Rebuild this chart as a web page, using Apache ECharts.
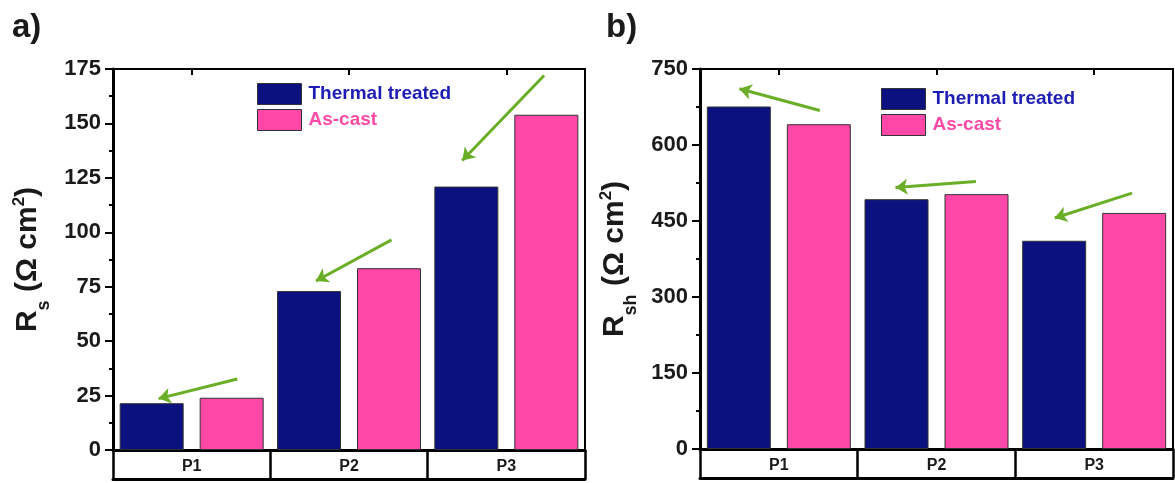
<!DOCTYPE html>
<html>
<head>
<meta charset="utf-8">
<script src="https://cdn.jsdelivr.net/npm/echarts@6/dist/echarts.min.js"></script>
<style>
  html, body { margin: 0; padding: 0; background: #fff; }
  #chart { width: 1175px; height: 483px; }
</style>
</head>
<body>
<div id="chart"></div>
<script>
// Samples and measured resistances
const categories = ['P1', 'P2', 'P3'];
const seriesNames = ['Thermal treated', 'As-cast'];
const rsThermal = [21.5, 73, 121];
const rsAsCast = [24, 83.5, 154];
const rshThermal = [676, 493, 411];
const rshAsCast = [641, 503, 466];

// Annotation arrows in data space: [start, tip], x measured in category units (0..3)
const rsArrows = [
  [[0.79, 32.6], [0.29, 23.6]],
  [[1.77, 96.5], [1.29, 77.6]],
  [[2.74, 172], [2.22, 133]]
];
const rshArrows = [
  [[0.76, 668], [0.25, 711]],
  [[1.75, 528], [1.24, 516]],
  [[2.74, 505], [2.25, 456]]
];

// Axis ranges and tick spacing
const rsAxis = { min: 0, max: 175, interval: 25 };
const rshAxis = { min: 0, max: 750, interval: 150 };

const FONT = '"Liberation Sans", Arial, sans-serif';
const NAVY = '#0b1280';
const PINK = '#ff47a8';
const GREEN = '#6aae27';
const TEXT_BLUE = '#1d1db6';
const TEXT_PINK = '#ff4aa8';

const grids = [
  { left: 113, top: 69, width: 472, height: 381 },
  { left: 700, top: 69, width: 473, height: 380 }
];

function xAxesFor(gi) {
  return [
    { // category axis with boxed labels
      type: 'category', gridIndex: gi, data: categories, position: 'bottom',
      axisLine: { lineStyle: { color: '#000', width: 3 } },
      axisTick: { show: true, length: 29, inside: false, interval: 0, lineStyle: { color: '#000', width: 2.5 } },
      axisLabel: { margin: 9, fontFamily: FONT, fontWeight: 'bold', fontSize: 16, color: '#1a1a1a' },
      splitLine: { show: false }
    },
    { // bottom edge of the label boxes
      type: 'category', gridIndex: gi, data: categories, position: 'bottom', offset: 29,
      axisLine: { lineStyle: { color: '#000', width: 3 } },
      axisTick: { show: false }, axisLabel: { show: false }
    },
    { // top frame with inward ticks at category centres
      type: 'category', gridIndex: gi, data: categories, position: 'top',
      axisLine: { lineStyle: { color: '#000', width: 2 } },
      axisTick: { show: true, inside: true, length: 6, alignWithLabel: true, lineStyle: { color: '#000', width: 2 } },
      axisLabel: { show: false }
    },
    { // continuous x scale for the arrows
      type: 'value', gridIndex: gi, min: 0, max: 3, show: false
    }
  ];
}

function yAxisFor(gi, range, rich, text) {
  return {
    type: 'value', gridIndex: gi, position: 'left',
    min: range.min, max: range.max, interval: range.interval,
    axisLine: { show: true, lineStyle: { color: '#000', width: 3 } },
    axisTick: { show: true, length: 8, lineStyle: { color: '#000', width: 2 } },
    minorTick: { show: true, splitNumber: 2, length: 4, lineStyle: { color: '#000', width: 2 } },
    splitLine: { show: false },
    axisLabel: { margin: 12, fontFamily: FONT, fontWeight: 'bold', fontSize: 22, color: '#1a1a1a' },
    name: text, nameLocation: 'middle', nameRotate: 90, nameGap: 70,
    nameTextStyle: { rich: rich }
  };
}

const nameRich = {
  b: { fontFamily: FONT, fontWeight: 'bold', fontSize: 30, color: '#1a1a1a' },
  sub: { fontFamily: FONT, fontWeight: 'bold', fontSize: 18, color: '#1a1a1a', verticalAlign: 'bottom', padding: [0, 0, -10, 0] },
  sup: { fontFamily: FONT, fontWeight: 'bold', fontSize: 17, color: '#1a1a1a', verticalAlign: 'top', padding: [-2, 0, 0, 0] }
};

function barSeries(gi, name, data, color) {
  return {
    type: 'bar', name: name, data: data,
    xAxisIndex: gi * 4, yAxisIndex: gi,
    barWidth: 64, barGap: '25%',
    itemStyle: { color: color, borderColor: '#333', borderWidth: 1 },
    emphasis: { disabled: true }, z: 2
  };
}

function arrowSeries(gi, arrows) {
  return {
    type: 'lines', coordinateSystem: 'cartesian2d',
    xAxisIndex: gi * 4 + 3, yAxisIndex: gi,
    symbol: ['none', 'arrow'], symbolSize: [0, 12],
    lineStyle: { color: GREEN, width: 3, opacity: 1 },
    data: arrows.map(a => ({ coords: a })),
    silent: true, z: 5
  };
}

function legendFor(left, top) {
  return {
    left: left, top: top, orient: 'vertical', padding: 0,
    itemWidth: 44, itemHeight: 21, itemGap: 4,
    icon: 'rect', selectedMode: false,
    itemStyle: { borderColor: '#333', borderWidth: 1 },
    textStyle: { fontFamily: FONT, fontWeight: 'bold', fontSize: 19, padding: [0, 0, 0, 2] },
    data: [
      { name: seriesNames[0], textStyle: { color: TEXT_BLUE } },
      { name: seriesNames[1], textStyle: { color: TEXT_PINK } }
    ]
  };
}

const option = {
  animation: false,
  backgroundColor: '#fff',
  grid: grids.map(g => Object.assign({ show: true, borderColor: '#000', borderWidth: 2, backgroundColor: 'transparent' }, g)),
  xAxis: [].concat(xAxesFor(0), xAxesFor(1)),
  yAxis: [
    yAxisFor(0, rsAxis, nameRich, '{b|R}{sub|s}{b| (Ω cm}{sup|2}{b|)}'),
    yAxisFor(1, rshAxis, nameRich, '{b|R}{sub|sh}{b| (Ω cm}{sup|2}{b|)}')
  ],
  legend: [legendFor(257, 83), legendFor(881, 88)],
  series: [
    barSeries(0, seriesNames[0], rsThermal, NAVY),
    barSeries(0, seriesNames[1], rsAsCast, PINK),
    barSeries(1, seriesNames[0], rshThermal, NAVY),
    barSeries(1, seriesNames[1], rshAsCast, PINK),
    arrowSeries(0, rsArrows),
    arrowSeries(1, rshArrows)
  ],
  graphic: [
    { type: 'text', left: 12, top: 11, style: { text: 'a)', fontFamily: FONT, fontWeight: 'bold', fontSize: 33, fill: '#1a1a1a' } },
    { type: 'text', left: 606, top: 11, style: { text: 'b)', fontFamily: FONT, fontWeight: 'bold', fontSize: 33, fill: '#1a1a1a' } }
  ]
};

const chart = echarts.init(document.getElementById('chart'), null, { renderer: 'canvas' });
chart.setOption(option);
</script>
</body>
</html>
